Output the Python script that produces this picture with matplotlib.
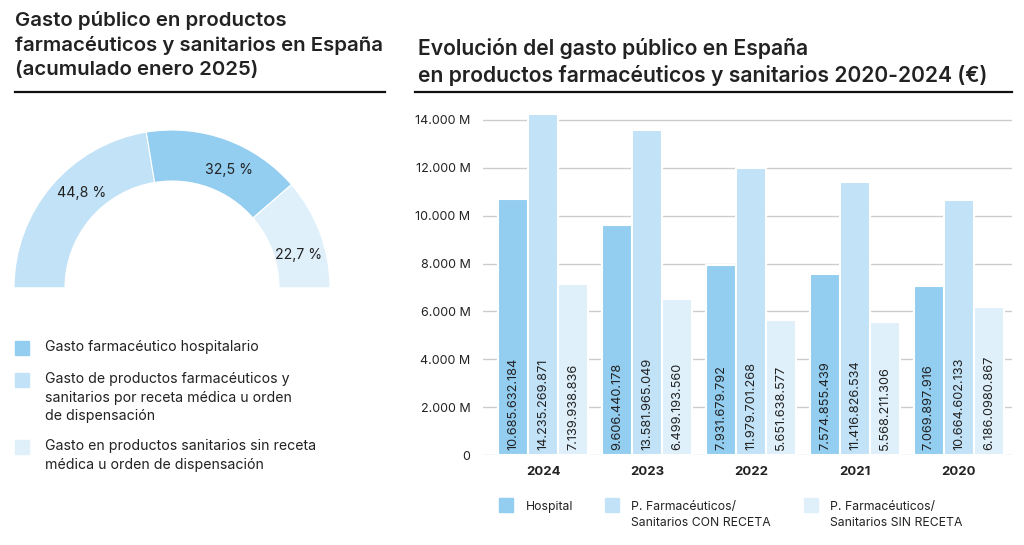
import matplotlib.pyplot as plt
import numpy as np

plt.rcParams['font.family'] = ['Inter', 'DejaVu Sans']

# left: share of spending (january 2025)
share_labels = ["44,8 %", "32,5 %", "22,7 %"]
share_values = [44.8, 32.5, 22.7]
legend_left = ["Gasto farmacéutico hospitalario",
               "Gasto de productos farmacéuticos y\nsanitarios por receta médica u orden\nde dispensación",
               "Gasto en productos sanitarios sin receta\nmédica u orden de dispensación"]

# right: evolution 2020-2024
years = ["2024", "2023", "2022", "2021", "2020"]
hospital = [10685632184, 9606440178, 7931679792, 7574855439, 7069897916]
con_receta = [14235269871, 13581965049, 11979701268, 11416826534, 10664602133]
sin_receta = [7139938836, 6499193560, 5651638577, 5568211306, 6186098087]
hospital_txt = ["10.685.632.184", "9.606.440.178", "7.931.679.792", "7.574.855.439", "7.069.897.916"]
con_txt = ["14.235.269.871", "13.581.965.049", "11.979.701.268", "11.416.826.534", "10.664.602.133"]
sin_txt = ["7.139.938.836", "6.499.193.560", "5.651.638.577", "5.568.211.306", "6.186.0980.867"]

c_hosp = "#93cdf0"
c_con = "#c2e2f7"
c_sin = "#dff0fb"
txt = "#222222"

W, H = 1024, 545
fig = plt.figure(figsize=(W/100, H/100), dpi=100)

def fx(px): return px / W
def fy(py): return 1 - py / H

# ---- left titles
fig.text(fx(15), fy(11), "Gasto público en productos\nfarmacéuticos y sanitarios en España\n(acumulado enero 2025)",
         fontsize=14.7, fontweight='semibold', color=txt, va='top', ha='left', linespacing=1.42)
fig.add_artist(plt.Line2D([fx(15), fx(385)], [fy(92), fy(92)], color='#111111', lw=1.6))

# ---- semi donut
R = 158
ax1 = fig.add_axes([fx(172 - R), fy(288 + R), 2*R/W, 2*R/H])
vals = share_values + [sum(share_values)]
cols = [c_con, c_hosp, c_sin, 'none']
ax1.pie(vals, colors=cols, startangle=180, counterclock=False,
        wedgeprops=dict(width=51/R, edgecolor='white', linewidth=0.8))
ax1.set_xlim(-1, 1)
ax1.set_ylim(-1, 1)
ang = 180.0
for lab, v in zip(share_labels, share_values):
    span = v / sum(share_values) * 180
    mid = np.radians(ang - span/2 - 6)
    ax1.text(0.83*np.cos(mid), 0.83*np.sin(mid), lab, ha='center', va='center',
             fontsize=10.2, color=txt)
    ang -= span

# left legend
leg_y = [348, 380, 447]
for y, lab, c in zip(leg_y, legend_left, [c_hosp, c_con, c_sin]):
    fig.add_artist(plt.Rectangle((fx(15), fy(y + 7)), 14/W, 14/H, color=c))
    fig.text(fx(45), fy(y - 8), lab, fontsize=10.2, color=txt, va='top', ha='left',
             linespacing=1.42)

# ---- right titles
fig.text(fx(418), fy(38), "Evolución del gasto público en España\nen productos farmacéuticos y sanitarios 2020-2024 (€)",
         fontsize=15.2, fontweight='semibold', color=txt, va='top', ha='left', linespacing=1.38)
fig.add_artist(plt.Line2D([fx(415), fx(1012)], [fy(92), fy(92)], color='#111111', lw=1.6))

# ---- bars
ax2 = fig.add_axes([fx(483), fy(455), 529/W, 350/H])
x = np.arange(len(years))
bw = 0.29
for off, data, labs, c in [(-bw, hospital, hospital_txt, c_hosp),
                           (0, con_receta, con_txt, c_con),
                           (bw, sin_receta, sin_txt, c_sin)]:
    ax2.bar(x + off, data, width=bw, color=c, edgecolor='white', linewidth=1.5, zorder=2)
    for xi, lab in zip(x + off, labs):
        ax2.text(xi, 2.2e8, lab, rotation=90, ha='center', va='bottom', fontsize=9.2, color=txt, zorder=3)

ax2.set_xlim(-0.58, 4.51)
ax2.set_ylim(0, 14000e6 * 350 / 335)
ticks = np.arange(0, 14001e6, 2000e6)
ax2.set_yticks(ticks)
ax2.set_yticklabels(["0"] + [f"{int(t/1e6):,} M".replace(",", ".") for t in ticks[1:]],
                    fontsize=9, color=txt)
ax2.set_xticks(x)
ax2.set_xticklabels(years, fontsize=9.5, fontweight='bold', color=txt)
ax2.tick_params(length=0, pad=8)
ax2.tick_params(axis='y', pad=9)
ax2.grid(axis='y', color='#cccccc', lw=1, zorder=0)
for s in ax2.spines.values():
    s.set_visible(False)

# bottom legend
legend_right = [("Hospital", 499, 526, c_hosp),
                ("P. Farmacéuticos/\nSanitarios CON RECETA", 605, 631, c_con),
                ("P. Farmacéuticos/\nSanitarios SIN RECETA", 804, 830, c_sin)]
for lab, sx, tx, c in legend_right:
    fig.add_artist(plt.Rectangle((fx(sx), fy(512)), 14/W, 14/H, color=c))
    fig.text(fx(tx), fy(501), lab, fontsize=8.8, color=txt, va='top', ha='left', linespacing=1.5)

fig.savefig("out.png", dpi=100, facecolor='white')
